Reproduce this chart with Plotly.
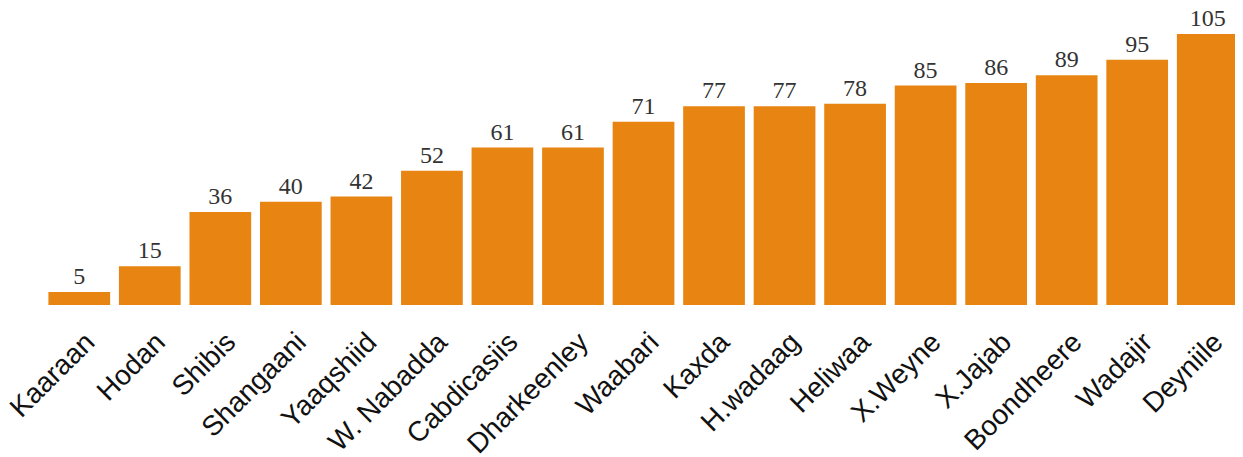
import plotly.graph_objects as go

categories = ["Kaaraan", "Hodan", "Shibis", "Shangaani", "Yaaqshiid", "W. Nabadda",
              "Cabdicasiis", "Dharkeenley", "Waabari", "Kaxda", "H.wadaag", "Heliwaa",
              "X.Weyne", "X.Jajab", "Boondheere", "Wadajir", "Deyniile"]
values = [5, 15, 36, 40, 42, 52, 61, 61, 71, 77, 77, 78, 85, 86, 89, 95, 105]

fig = go.Figure(go.Bar(
    x=categories, y=values,
    marker=dict(color="#E88412", line=dict(width=0)),
    text=[str(v) for v in values], textposition="outside",
    textfont=dict(family="Liberation Serif", size=24, color="#333333"),
    cliponaxis=False,
))
fig.update_layout(
    width=1243, height=457,
    margin=dict(l=36, r=8, t=10, b=160, autoexpand=False),
    plot_bgcolor="white", paper_bgcolor="white",
    bargap=0.125, showlegend=False,
    xaxis=dict(tickangle=-45, tickfont=dict(family="Liberation Sans", size=28, color="#111111"),
               ticklabelstandoff=14, ticklabelshift=7,
               showgrid=False, zeroline=False, showline=False, ticks="", automargin=False),
    yaxis=dict(visible=False, range=[0, 111.2], automargin=False),
)
fig.write_html("out.html")
